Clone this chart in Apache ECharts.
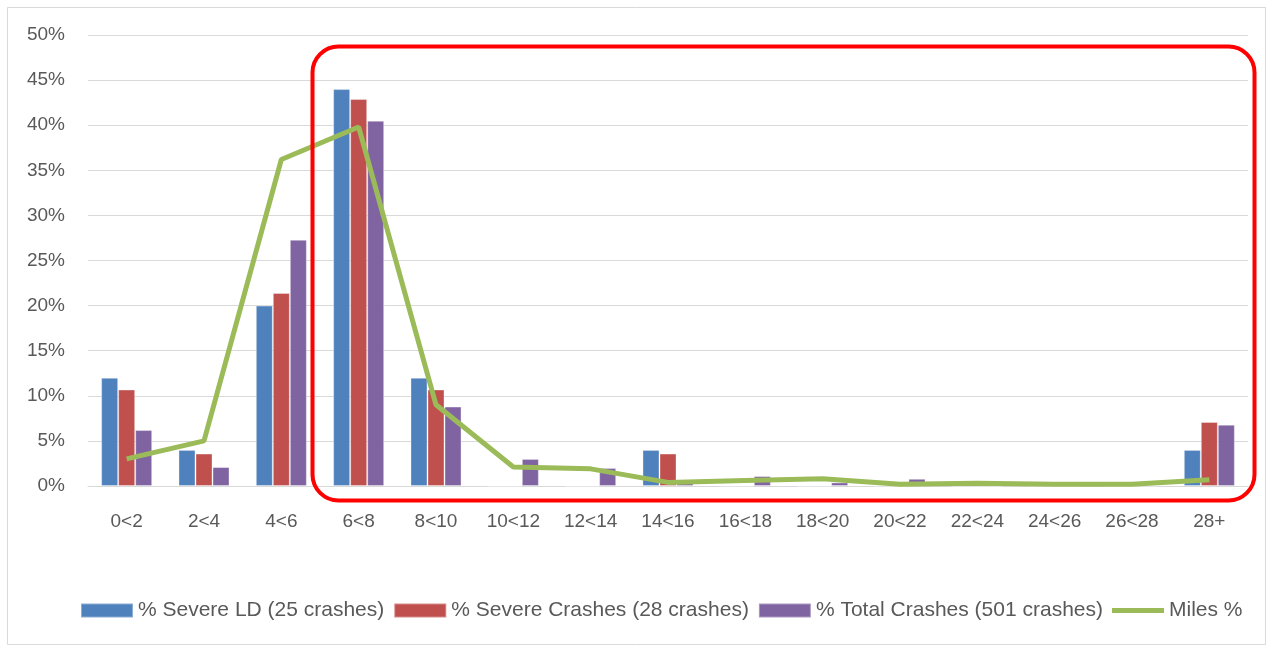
<!DOCTYPE html>
<html>
<head>
<meta charset="utf-8">
<script src="https://cdn.jsdelivr.net/npm/echarts@6/dist/echarts.min.js"></script>
<style>
  html, body { margin: 0; padding: 0; background: #fff; }
  #chart { width: 1268px; height: 647px; }
</style>
</head>
<body>
<div id="chart"></div>
<script>
"use strict";
var categories = ['0<2','2<4','4<6','6<8','8<10','10<12','12<14','14<16','16<18','18<20','20<22','22<24','24<26','26<28','28+'];
var severeLD = [12.0, 4.0, 20.0, 44.0, 12.0, 0, 0, 4.0, 0, 0, 0, 0, 0, 0, 4.0];
var severeCrashes = [10.7, 3.6, 21.4, 42.9, 10.7, 0, 0, 3.6, 0, 0, 0, 0, 0, 0, 7.1];
var totalCrashes = [6.2, 2.1, 27.3, 40.5, 8.8, 3.0, 2.0, 0.7, 1.1, 0.4, 0.8, 0, 0, 0, 6.8];
var milesPct = [3.0, 5.0, 36.2, 39.8, 9.0, 2.1, 1.9, 0.4, 0.6, 0.8, 0.2, 0.3, 0.2, 0.2, 0.7];
var yTicks = [0, 5, 10, 15, 20, 25, 30, 35, 40, 45, 50];

var chart = echarts.init(document.getElementById('chart'));
var font = 'Liberation Sans';
var barStyle = function (c) {
    return { color: c, borderColor: 'rgba(255,255,255,0.35)', borderWidth: 1 };
};
var option = {
    animation: false,
    textStyle: { fontFamily: font },
    grid: { left: 88, right: 20, top: 35, bottom: 161 },
    legend: {
        bottom: 21,
        left: 75,
        itemWidth: 52,
        itemHeight: 14,
        itemGap: 9,
        textStyle: { fontSize: 21, color: '#595959', fontFamily: font },
        data: [
            { name: '% Severe LD (25 crashes)', icon: 'rect' },
            { name: '% Severe Crashes (28 crashes)', icon: 'rect' },
            { name: '% Total Crashes (501 crashes)', icon: 'rect' },
            { name: 'Miles %', icon: 'path://M0,0L50,0L50,5L0,5Z', itemStyle: { color: '#9BBB59' } }
        ]
    },
    xAxis: {
        type: 'category',
        data: categories,
        axisLine: { lineStyle: { color: '#d9d9d9', width: 1 } },
        axisTick: { show: false },
        axisLabel: { fontSize: 19, color: '#595959', margin: 26 }
    },
    yAxis: {
        type: 'value',
        min: yTicks[0],
        max: yTicks[yTicks.length - 1],
        interval: 5,
        axisLine: { show: false },
        axisTick: { show: false },
        splitLine: { lineStyle: { color: '#d9d9d9', width: 1 } },
        axisLabel: { fontSize: 19, color: '#595959', margin: 23, formatter: '{value}%' }
    },
    series: [
        { name: '% Severe LD (25 crashes)', type: 'bar', data: severeLD, barGap: '0%', barCategoryGap: '34%', itemStyle: barStyle('#4F81BD') },
        { name: '% Severe Crashes (28 crashes)', type: 'bar', data: severeCrashes, itemStyle: barStyle('#C0504D') },
        { name: '% Total Crashes (501 crashes)', type: 'bar', data: totalCrashes, itemStyle: barStyle('#8064A2') },
        { name: 'Miles %', type: 'line', data: milesPct, showSymbol: false, symbol: 'none',
          lineStyle: { color: '#9BBB59', width: 5 }, itemStyle: { color: '#9BBB59' }, z: 5 }
    ],
    graphic: [
        { type: 'rect', left: 5, top: 5, shape: { width: 1258, height: 637 },
          style: { fill: 'none', stroke: '#d9d9d9', lineWidth: 1 }, z: -1 },
        { type: 'rect', left: 310, top: 44, shape: { width: 942, height: 454, r: 26 },
          style: { fill: 'none', stroke: '#ff0000', lineWidth: 4 }, z: 10 }
    ]
};
chart.setOption(option);
</script>
</body>
</html>
